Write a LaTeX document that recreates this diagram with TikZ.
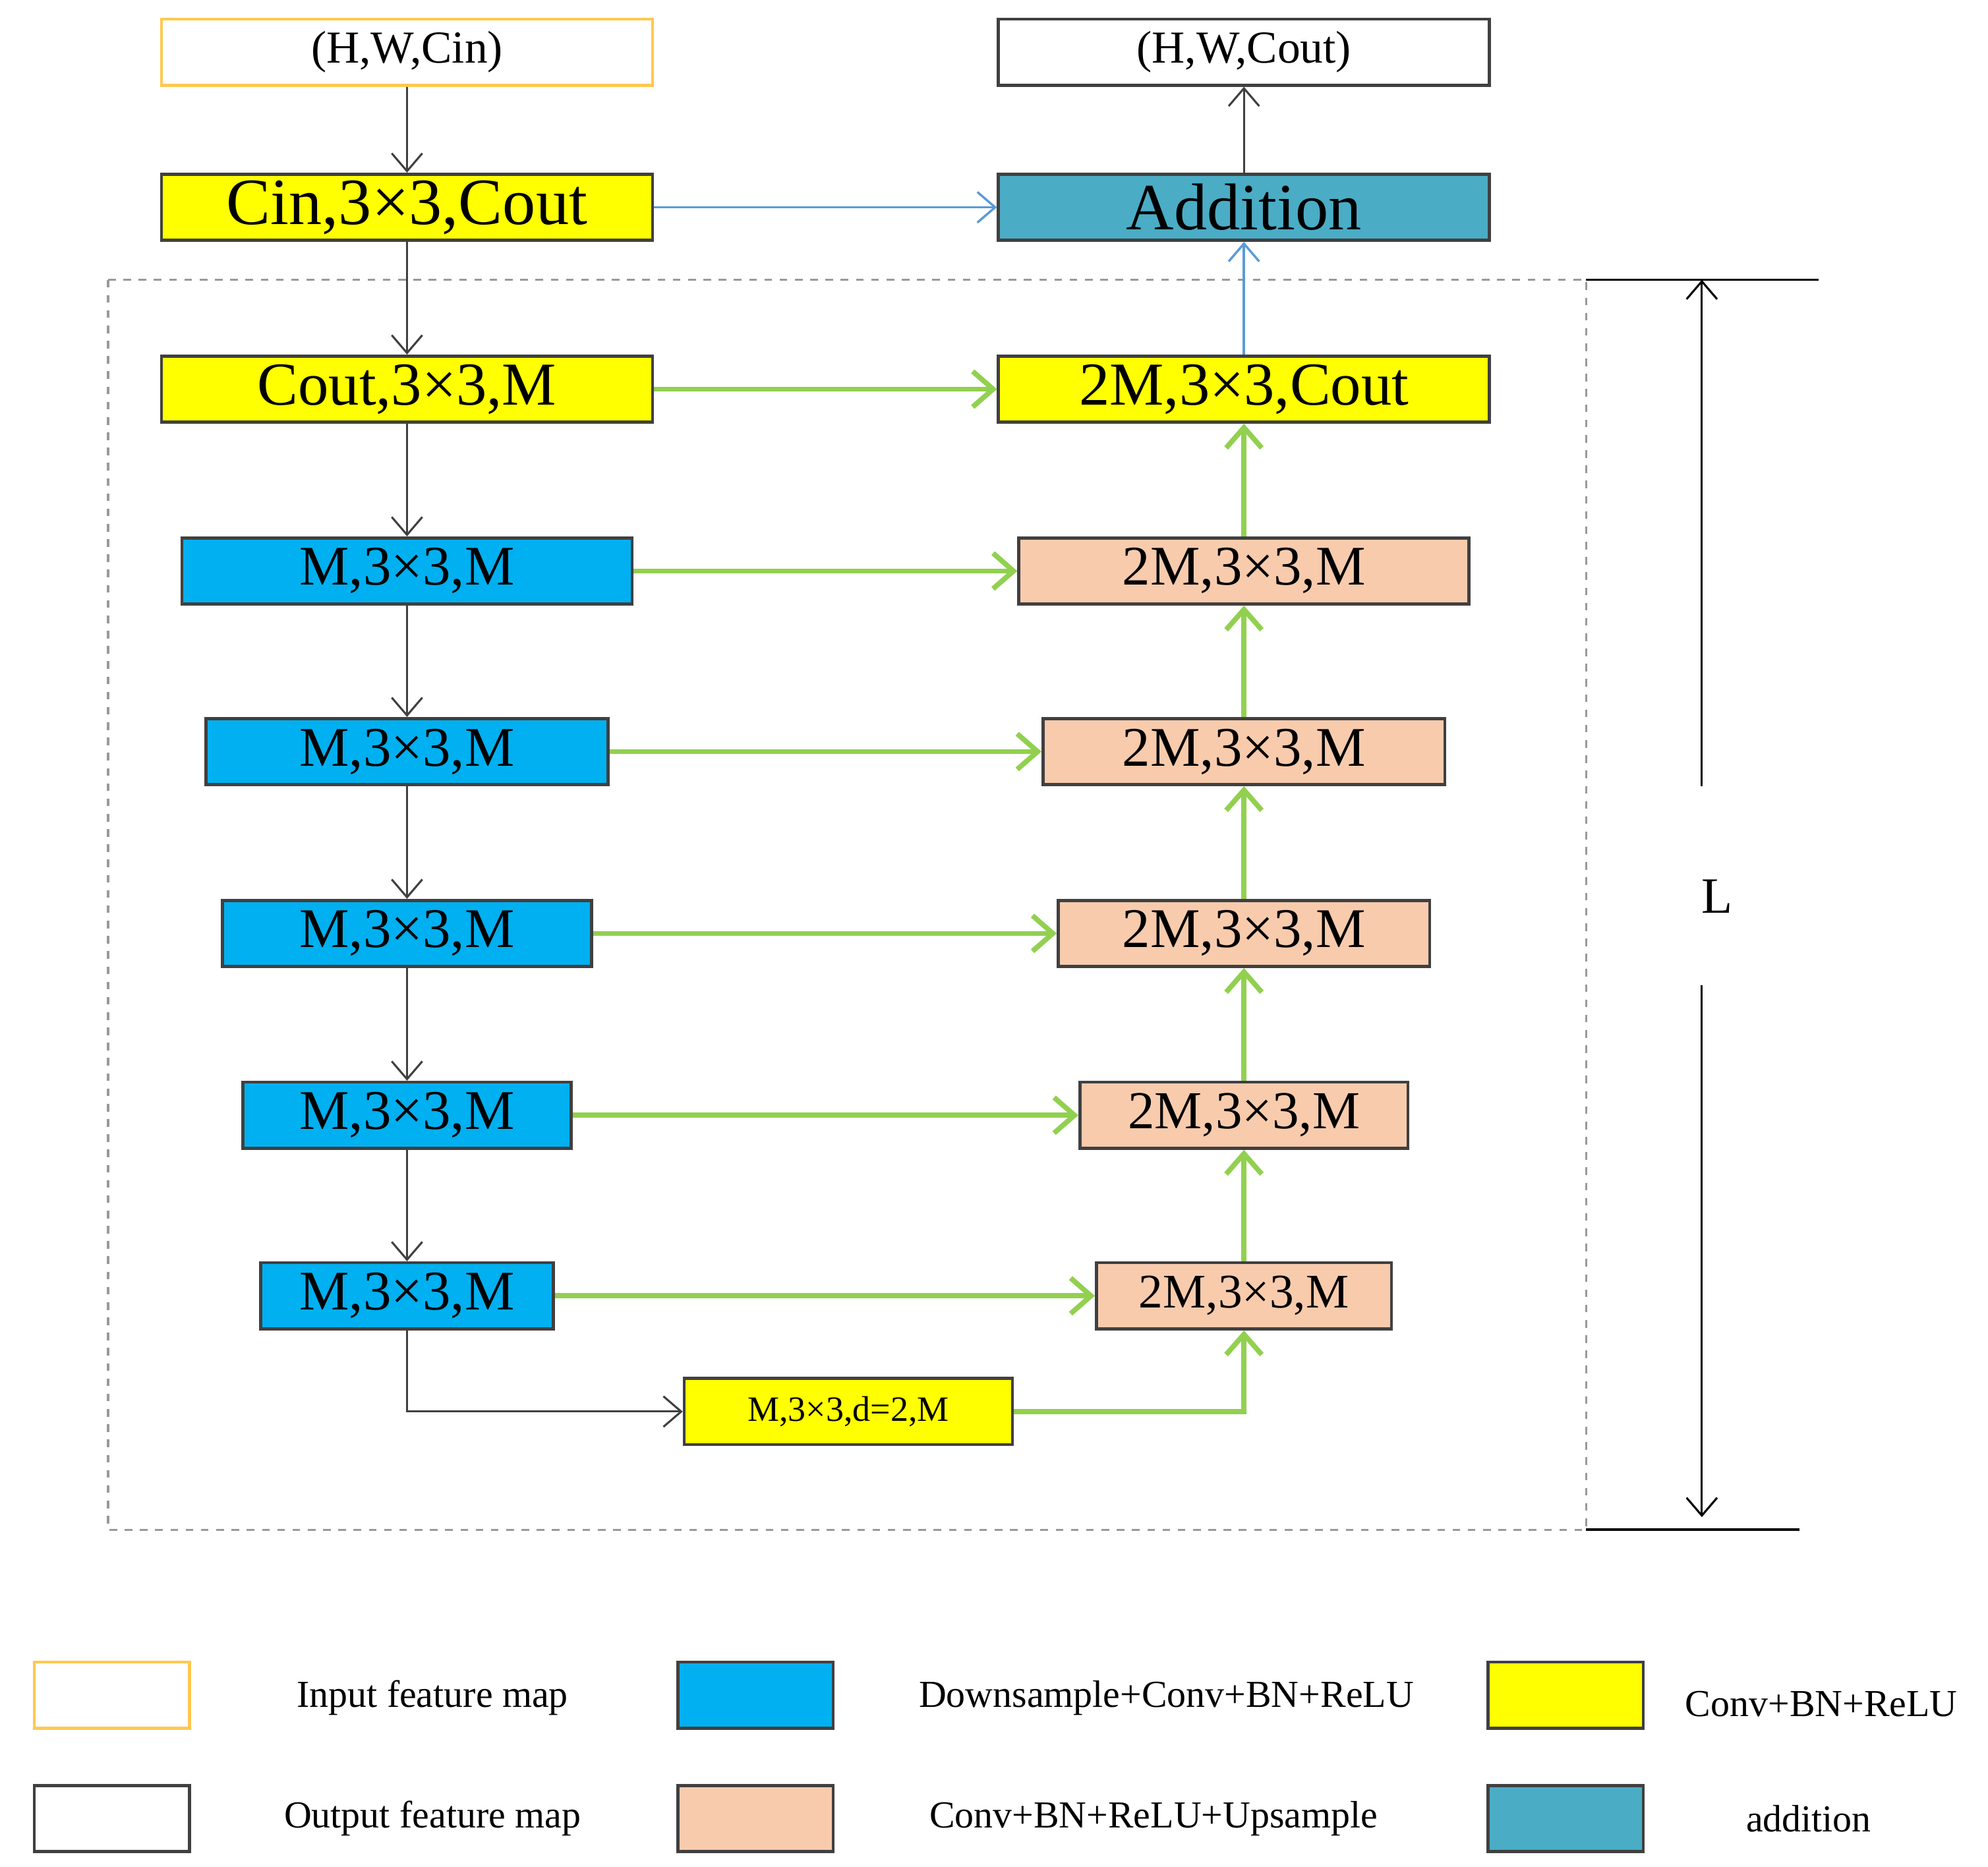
\documentclass[tikz,border=0pt]{standalone}
\usepackage{fontspec}
\setmainfont{Liberation Serif}
\usetikzlibrary{arrows.meta}
\definecolor{inborder}{RGB}{255,200,80}
\definecolor{ybox}{RGB}{255,255,0}
\definecolor{bbox}{RGB}{0,176,240}
\definecolor{pbox}{RGB}{248,203,173}
\definecolor{abox}{RGB}{75,172,198}
\definecolor{grn}{RGB}{146,208,80}
\definecolor{bline}{RGB}{91,155,213}
\tikzset{
  blk/.style={draw=black!75,line width=1.2pt,inner sep=0pt,minimum height=26pt},
  io/.style={blk,fill=white,font=\fontsize{18}{20}\selectfont},
  yel/.style={blk,fill=ybox},
  blu/.style={blk,fill=bbox,font=\fontsize{22}{24}\selectfont},
  pea/.style={blk,fill=pbox,font=\fontsize{22}{24}\selectfont},
  darr/.style={draw=black!75,line width=0.8pt,-{Straight Barb[length=7pt,width=12pt]}},
  garr/.style={draw=grn,line width=2pt,-{Straight Barb[length=8pt,width=14pt]}},
  barr/.style={draw=bline,line width=0.9pt,-{Straight Barb[length=7pt,width=12pt]}},
  leg/.style={draw=black!75,line width=1.2pt,minimum width=61pt,minimum height=26pt,inner sep=0pt},
  legtxt/.style={font=\fontsize{15}{17}\selectfont}
}
\begin{document}
\begin{tikzpicture}[x=0.5pt,y=-0.5pt]
\useasboundingbox (0,0) rectangle (1563,1468);

% dashed frame and L
\draw[dashed,gray!80,line width=0.9pt] (85,220) rectangle (1247,1203);
\draw[black,line width=1pt] (1247,220) -- (1430,220) (1247,1203) -- (1415,1203);
\coordinate (ltop) at (1338,220);
\coordinate (lbot) at (1338,1193);
\node[font=\fontsize{20}{22}\selectfont] (lbl) at (1350,705) {L};
\draw[darr,black] (1338,618) -- (ltop);
\draw[darr,black] (1338,775) -- (lbot);

% left column
\node[io,draw=inborder,minimum width=193pt] (in) at (320,41) {(H,W,Cin)};
\node[yel,minimum width=193pt,font=\fontsize{26}{28}\selectfont] (c1) at (320,163) {Cin,3×3,Cout};
\node[yel,minimum width=193pt,font=\fontsize{24}{26}\selectfont] (c2) at (320,306) {Cout,3×3,M};
\node[blu,minimum width=177pt] (d1) at (320,449) {M,3×3,M};
\node[blu,minimum width=158pt] (d2) at (320,591) {M,3×3,M};
\node[blu,minimum width=145pt] (d3) at (320,734) {M,3×3,M};
\node[blu,minimum width=129pt] (d4) at (320,877) {M,3×3,M};
\node[blu,minimum width=115pt] (d5) at (320,1019) {M,3×3,M};
\node[yel,minimum width=129pt,font=\fontsize{14}{16}\selectfont] (dil) at (667,1110) {M,3×3,d=2,M};

% right column
\node[io,minimum width=193pt] (out) at (978,41) {(H,W,Cout)};
\node[blk,fill=abox,minimum width=193pt,font=\fontsize{26}{28}\selectfont] (add) at (978,163) {Addition};
\node[yel,minimum width=193pt,font=\fontsize{24}{26}\selectfont] (u0) at (978,306) {2M,3×3,Cout};
\node[pea,minimum width=177pt] (u1) at (978,449) {2M,3×3,M};
\node[pea,minimum width=158pt] (u2) at (978,591) {2M,3×3,M};
\node[pea,minimum width=146pt] (u3) at (978,734) {2M,3×3,M};
\node[pea,minimum width=129pt,font=\fontsize{21}{23}\selectfont] (u4) at (978,877) {2M,3×3,M};
\node[pea,minimum width=116pt,font=\fontsize{19}{21}\selectfont] (u5) at (978,1019) {2M,3×3,M};

% down path
\draw[darr] (in) -- (c1);
\draw[darr] (c1) -- (c2);
\draw[darr] (c2) -- (d1);
\foreach \a/\b in {d1/d2,d2/d3,d3/d4,d4/d5}
  \draw[darr] (\a) -- (\b);
\draw[darr] (d5.south) |- (dil.west);

% skips and up path
\draw[garr] (c2) -- (u0);
\foreach \i in {1,...,5}
  \draw[garr] (d\i) -- (u\i);
\draw[garr] (dil.east) -| (u5.south);
\foreach \a/\b in {u5/u4,u4/u3,u3/u2,u2/u1,u1/u0}
  \draw[garr] (\a) -- (\b);
\draw[barr] (c1) -- (add);
\draw[barr] (u0) -- (add);
\draw[darr] (add) -- (out);

% legend
\node[leg,draw=inborder] (k1) at (88,1333) {};
\node[legtxt] (t1) at (340,1335) {Input feature map};
\node[leg,fill=bbox] (k2) at (594,1333) {};
\node[legtxt] (t2) at (917,1335) {Downsample+Conv+BN+ReLU};
\node[leg,fill=ybox] (k3) at (1231,1333) {};
\node[legtxt] (t3) at (1432,1340) {Conv+BN+ReLU};
\node[leg] (k4) at (88,1430) {};
\node[legtxt] (t4) at (340,1430) {Output feature map};
\node[leg,fill=pbox] (k5) at (594,1430) {};
\node[legtxt] (t5) at (907,1430) {Conv+BN+ReLU+Upsample};
\node[leg,fill=abox] (k6) at (1231,1430) {};
\node[legtxt] (t6) at (1422,1430) {addition};
\end{tikzpicture}
\end{document}
